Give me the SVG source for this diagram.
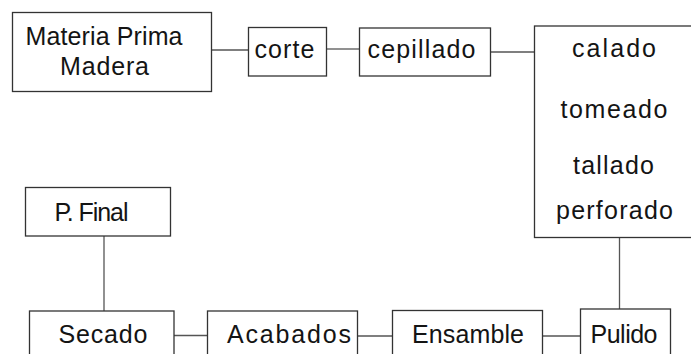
<svg xmlns="http://www.w3.org/2000/svg" width="691" height="354" viewBox="0 0 691 354">
<style>
.box{fill:#fff;stroke:#333;stroke-width:1.3}
.ln{stroke:#555;stroke-width:1.3;fill:none}
text{font-family:"Liberation Sans",Arial,sans-serif;font-size:25px;fill:#141414;text-anchor:middle}
</style>
<rect width="691" height="354" fill="#fff"/>
<g id="connectors">
<line class="ln" x1="211" y1="50" x2="248" y2="50"/>
<line class="ln" x1="327" y1="49" x2="359" y2="49"/>
<line class="ln" x1="491" y1="52" x2="534" y2="52"/>
<line class="ln" x1="619.5" y1="238" x2="619.5" y2="309"/>
<line class="ln" x1="542" y1="336" x2="584" y2="336"/>
<line class="ln" x1="357" y1="336" x2="396" y2="336"/>
<line class="ln" x1="174" y1="335.5" x2="211" y2="335.5"/>
<line class="ln" x1="104" y1="236" x2="104" y2="311"/>
</g>
<g id="materia">
<rect class="box" x="12.5" y="12.5" width="199" height="79"/>
<text x="104" y="45" textLength="157" lengthAdjust="spacing">Materia Prima</text>
<text x="104.5" y="75" textLength="89" lengthAdjust="spacing">Madera</text>
</g>
<g id="corte">
<rect class="box" x="248.5" y="27.5" width="78" height="48.5"/>
<text x="284.5" y="58" textLength="60" lengthAdjust="spacing">corte</text>
</g>
<g id="cepillado">
<rect class="box" x="359.5" y="28" width="131" height="48"/>
<text x="421.5" y="58" textLength="108" lengthAdjust="spacing">cepillado</text>
</g>
<g id="operaciones">
<rect class="box" x="534.5" y="26" width="160" height="211.5"/>
<text x="614" y="57" textLength="84" lengthAdjust="spacing">calado</text>
<text x="614" y="117.5" textLength="107" lengthAdjust="spacing">tomeado</text>
<text x="613.5" y="173.5" textLength="81" lengthAdjust="spacing">tallado</text>
<text x="614.5" y="219" textLength="117" lengthAdjust="spacing">perforado</text>
</g>
<g id="pfinal">
<rect class="box" x="25.5" y="187.5" width="145" height="48.5"/>
<text x="91.5" y="221" textLength="74" lengthAdjust="spacing">P. Final</text>
</g>
<g id="secado">
<rect class="box" x="29.5" y="311" width="144.5" height="60"/>
<text x="103" y="343" textLength="89" lengthAdjust="spacing">Secado</text>
</g>
<g id="acabados">
<rect class="box" x="207.5" y="311" width="150" height="60"/>
<text x="289" y="343" textLength="124" lengthAdjust="spacing">Acabados</text>
</g>
<g id="ensamble">
<rect class="box" x="392.5" y="310.5" width="150" height="60"/>
<text x="468" y="342.5" textLength="112" lengthAdjust="spacing">Ensamble</text>
</g>
<g id="pulido">
<rect class="box" x="580.5" y="309" width="90" height="60"/>
<text x="624" y="342.5" textLength="67" lengthAdjust="spacing">Pulido</text>
</g>
</svg>
